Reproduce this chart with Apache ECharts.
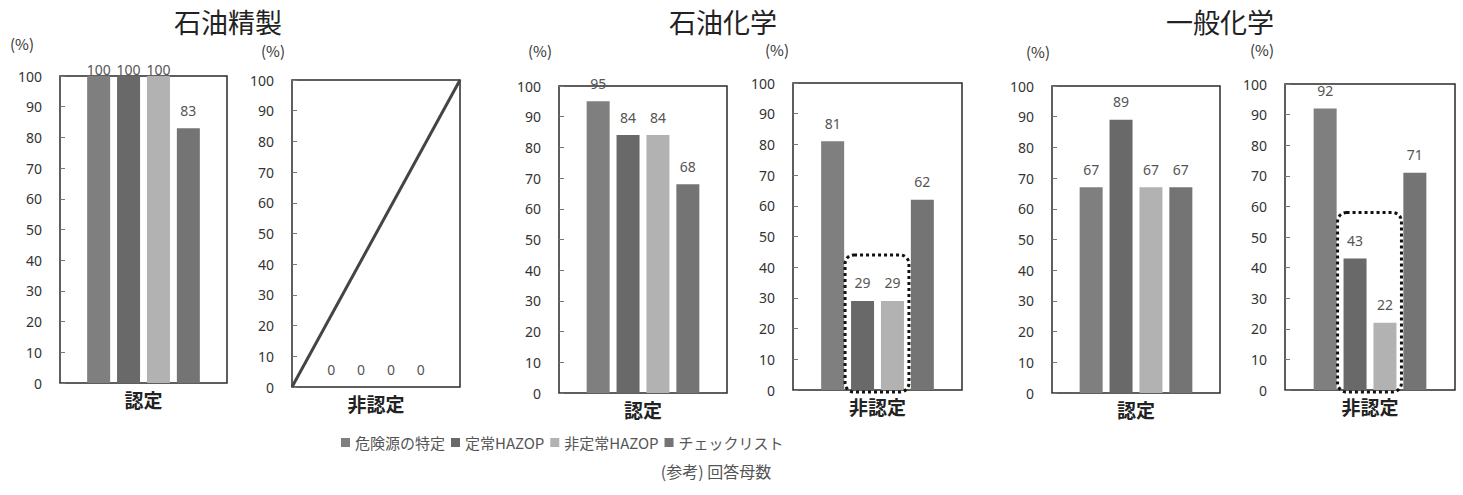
<!DOCTYPE html>
<html><head><meta charset="utf-8">
<script src="https://cdn.jsdelivr.net/npm/echarts@6/dist/echarts.min.js"></script>
<style>html,body{margin:0;padding:0;background:#fff}#c{width:1463px;height:495px}</style>
</head><body><div id="c"></div>
<script>
// ---- data ----
const seriesNames = ['危険源の特定', '定常HAZOP', '非定常HAZOP', 'チェックリスト'];
const categories = ['認定', '非認定'];
const groupTitles = ['石油精製', '石油化学', '一般化学'];
const yMin = 0, yMax = 100, yStep = 10;
const refineCert = [100, 100, 100, 83];
const refineNonCert = [0, 0, 0, 0];
const petroCert = [95, 84, 84, 68];
const petroNonCert = [81, 29, 29, 62];
const generalCert = [67, 89, 67, 67];
const generalNonCert = [92, 43, 22, 71];
const panelData = [refineCert, refineNonCert, petroCert, petroNonCert, generalCert, generalNonCert];
const panelCategory = [0, 1, 0, 1, 0, 1];
const noDataLine = [[0, 0], [1, 100]];      // diagonal in 石油精製・非認定
const highlightPanels = [3, 5];             // dotted boxes
const highlightTop = [44, 58];
const noteText = '(参考) 回答母数';

// ---- layout / style ----
const FONT = "'Noto Sans CJK JP', 'Noto Sans', sans-serif";
const colors = ['#7f7f7f', '#696969', '#b2b2b2', '#747474'];
const gridBoxes = [
  {left: 60, top: 76, width: 167, height: 307},
  {left: 292, top: 80, width: 168, height: 307},
  {left: 559, top: 86, width: 168, height: 307},
  {left: 793, top: 83, width: 169, height: 307},
  {left: 1052, top: 86, width: 168, height: 307},
  {left: 1285, top: 84, width: 170, height: 306}
];
const titlePos = [[228, 21], [723, 21], [1220, 21]];
const pctPos = [[22, 43], [273, 50], [540, 50], [777, 49], [1038, 51], [1262, 49]];

const grid = gridBoxes.map(b => Object.assign({show: true, borderColor: '#2a2a2a', borderWidth: 1.5, containLabel: false}, b));
const xAxis = gridBoxes.map((b, i) => ({
  type: 'category', gridIndex: i, data: [categories[panelCategory[i]]],
  axisLine: {show: false}, axisTick: {show: false},
  axisLabel: {fontSize: 19, fontWeight: 'bold', color: '#222', margin: 7, fontFamily: FONT}
}));
xAxis.push({type: 'value', gridIndex: 1, min: 0, max: 1, show: false});
const yAxis = gridBoxes.map((b, i) => ({
  type: 'value', gridIndex: i, min: yMin, max: yMax, interval: yStep,
  axisLine: {show: false}, splitLine: {show: false},
  axisTick: {show: true, inside: true, length: 5, lineStyle: {color: '#777'}},
  axisLabel: {fontSize: 14, color: '#333', margin: 18, fontFamily: "'Noto Sans', sans-serif"}
}));

const series = [];
panelData.forEach((vals, p) => {
  vals.forEach((v, s) => {
    series.push({
      type: 'bar', name: seriesNames[s], xAxisIndex: p, yAxisIndex: p,
      barWidth: 23, barGap: '30%',
      itemStyle: {color: colors[s]},
      label: {show: true, position: 'top', distance: v >= 99 ? 0 : 11,
        fontSize: 14, color: '#555', fontFamily: "'Noto Sans', sans-serif"},
      data: [v]
    });
  });
});
series.push({
  type: 'line', xAxisIndex: 6, yAxisIndex: 1, data: noDataLine,
  symbol: 'none', lineStyle: {color: '#444', width: 3}, silent: true
});

const graphic = [];
groupTitles.forEach((t, i) => graphic.push({
  id: 'title' + i, type: 'text', x: titlePos[i][0], y: titlePos[i][1],
  style: {text: t, font: '27px ' + FONT, fill: '#222', align: 'center', verticalAlign: 'middle'}
}));
pctPos.forEach((p, i) => graphic.push({
  id: 'pct' + i, type: 'text', x: p[0], y: p[1],
  style: {text: '(%)', font: '15px ' + FONT, fill: '#333', align: 'center', verticalAlign: 'middle'}
}));
graphic.push({
  id: 'note', type: 'text', x: 716, y: 471,
  style: {text: noteText, font: '16px ' + FONT, fill: '#555', align: 'center', verticalAlign: 'middle'}
});

const chart = echarts.init(document.getElementById('c'), null, {renderer: 'svg'});
chart.setOption({
  animation: false,
  backgroundColor: '#fff',
  textStyle: {fontFamily: FONT},
  grid, xAxis, yAxis, series, graphic,
  legend: {
    data: seriesNames, left: 336, top: 430, icon: 'rect', itemWidth: 9, itemHeight: 9,
    itemGap: 6, selectedMode: false,
    textStyle: {fontSize: 15, color: '#555', fontFamily: FONT}
  }
});

// dotted highlight boxes from the library's bar layouts
const model = chart.getModel();
const boxes = highlightPanels.map((p, k) => {
  const a = model.getSeriesByIndex(p * 4 + 1).getData().getItemLayout(0);
  const b = model.getSeriesByIndex(p * 4 + 2).getData().getItemLayout(0);
  const topY = chart.convertToPixel({yAxisIndex: p}, highlightTop[k]);
  const baseY = chart.convertToPixel({yAxisIndex: p}, 0);
  const x0 = Math.min(a.x, a.x + a.width) - 6;
  const x1 = Math.max(b.x, b.x + b.width) + 5;
  return {
    id: 'box' + k, type: 'rect', z: 100,
    shape: {x: x0, y: topY, width: x1 - x0, height: baseY + 2 - topY, r: 9},
    style: {fill: 'none', stroke: '#111', lineWidth: 3, lineDash: [3, 3]}
  };
});
chart.setOption({graphic: boxes});
</script></body></html>
